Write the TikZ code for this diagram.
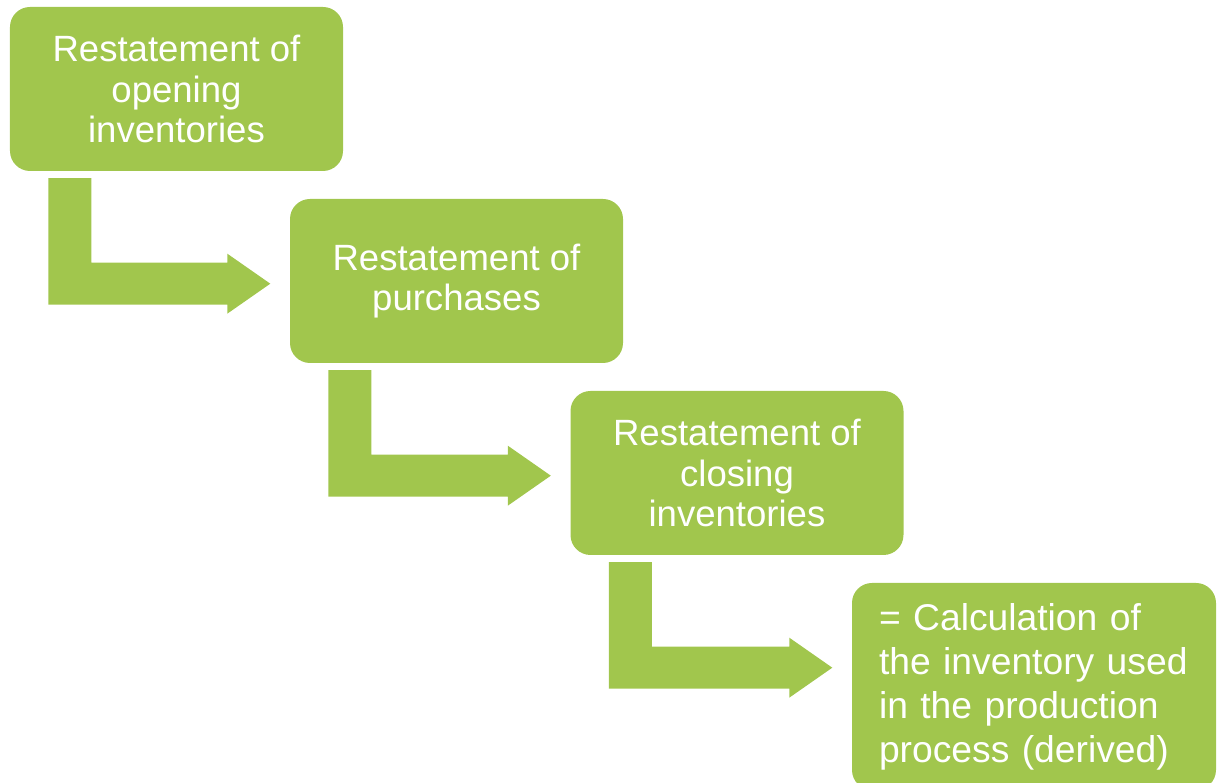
\documentclass[tikz,border=0pt]{standalone}
\usepackage{fontspec}
\setmainfont{Liberation Sans}
\usetikzlibrary{calc}

\definecolor{leafgreen}{RGB}{161,198,77}

\tikzset{
  stepbox/.style={fill=leafgreen, rounded corners=0.2cm, text=white, align=center,
                  minimum width=3.33cm, minimum height=1.64cm, inner sep=0pt,
                  font=\fontsize{10.4}{11.4}\selectfont},
  arrowfill/.style={fill=leafgreen}
}

% bent arrow from below one box to the left side of the next one
\newcommand{\bentarrow}[2]{%
  \fill[arrowfill] let \p1 = ($(#1.south west)+(0.39,-0.065)$),
                       \p2 = ($(#2.west)+(-0.19,0)$),
                       \p3 = ($(#1.south)+(0,-1.12)$) in
    (\x1,\y1) -- (\x1+0.43cm,\y1) -- (\x1+0.43cm,\y3+0.21cm)
      -- (\x2-0.43cm,\y3+0.21cm) -- (\x2-0.43cm,\y3+0.30cm) -- (\x2,\y3)
      -- (\x2-0.43cm,\y3-0.30cm) -- (\x2-0.43cm,\y3-0.21cm) -- (\x1,\y3-0.21cm) -- cycle;}

\begin{document}
\begin{tikzpicture}
            \useasboundingbox (0,0) rectangle (12.17,7.83);

            % the four steps
            \node[stepbox] (opening)  at (1.765, 6.94) {Restatement of\\opening\\inventories};
            \node[stepbox] (purchase) at (4.565, 5.02) {Restatement of\\purchases};
            \node[stepbox] (closing)  at (7.370, 3.10) {Restatement of\\closing\\inventories};
            \node[stepbox, minimum width=3.64cm, minimum height=2.07cm, text width=3.10cm,
                  inner xsep=0.27cm, align=left, font=\fontsize{10.6}{12.5}\selectfont]
                  (result) at (10.34, 0.965)
                  {= Calculation of\\the inventory used\\in the production\\process (derived)};

            % bent arrows between the steps
            \bentarrow{opening}{purchase}
            \bentarrow{purchase}{closing}
            \bentarrow{closing}{result}
\end{tikzpicture}
\end{document}
